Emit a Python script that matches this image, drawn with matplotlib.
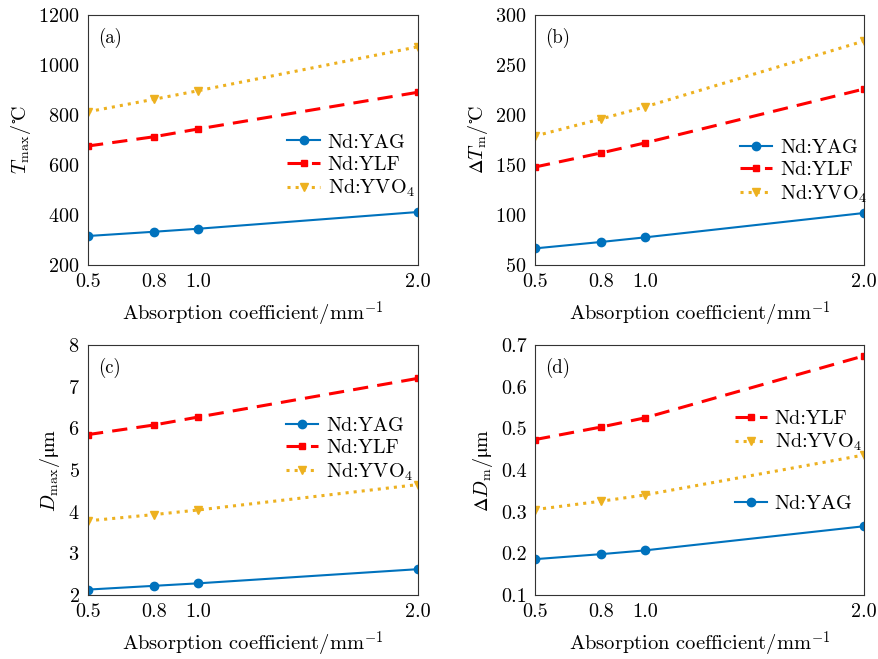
import numpy as np
import matplotlib
matplotlib.use('Agg')
import matplotlib.pyplot as plt

plt.rcParams['font.family'] = ['cmr10', 'DejaVu Serif']
plt.rcParams['mathtext.fontset'] = 'custom'
plt.rcParams['mathtext.rm'] = 'cmr10'
plt.rcParams['mathtext.it'] = 'cmmi10'
plt.rcParams['mathtext.bf'] = 'cmb10'
plt.rcParams['mathtext.fallback'] = 'stix'
plt.rcParams['axes.unicode_minus'] = False
plt.rcParams['axes.formatter.use_mathtext'] = True

# absorption coefficient / mm^-1
alpha = [0.5, 0.8, 1.0, 2.0]
names = ['Nd:YAG', 'Nd:YLF', r'Nd:YVO$_4$']

# (a) maximum temperature
tmax_yag = [316, 333, 345, 412]
tmax_ylf = [676, 713, 744, 891]
tmax_yvo = [813, 863, 897, 1073]

# (b) temperature difference
dtm_yag = [66.6, 73, 77.6, 102]
dtm_ylf = [148, 162, 172, 226]
dtm_yvo = [179, 196, 208, 274]

# (c) maximum deformation
dmax_yag = [2.13, 2.22, 2.28, 2.62]
dmax_ylf = [5.85, 6.08, 6.27, 7.20]
dmax_yvo = [3.78, 3.93, 4.04, 4.65]

# (d) deformation difference
ddm_yag = [0.186, 0.198, 0.207, 0.265]
ddm_ylf = [0.473, 0.503, 0.525, 0.674]
ddm_yvo = [0.305, 0.325, 0.340, 0.436]

col_yag = '#0072BD'
col_ylf = '#FF0000'
col_yvo = '#EDB120'

fig = plt.figure(figsize=(8.79, 6.59), dpi=100)
W, H = 879, 659
def box(l, t, r, b):
    return [l / W, 1 - b / H, (r - l) / W, (b - t) / H]

axs = [fig.add_axes(box(88, 15, 418, 265)),
       fig.add_axes(box(535, 15, 864, 265)),
       fig.add_axes(box(88, 345, 418, 595)),
       fig.add_axes(box(535, 345, 864, 595))]

data = [(tmax_yag, tmax_ylf, tmax_yvo),
        (dtm_yag, dtm_ylf, dtm_yvo),
        (dmax_yag, dmax_ylf, dmax_yvo),
        (ddm_yag, ddm_ylf, ddm_yvo)]
ylabels = [r'$T_{\mathrm{max}}/^{\circ}\!\mathrm{C}$', r'$\Delta T_{\mathrm{m}}/^{\circ}\!\mathrm{C}$',
           r'$D_{\mathrm{max}}/\mathrm{μm}$', r'$\Delta D_{\mathrm{m}}/\mathrm{μm}$']
ylims = [(200, 1200), (50, 300), (2, 8), (0.1, 0.7)]
yticks = [np.arange(200, 1201, 200), np.arange(50, 301, 50),
          np.arange(2, 9, 1), np.arange(0.1, 0.71, 0.1)]
ytlabels = [None, None, None, ['%.1f' % v for v in np.arange(0.1, 0.71, 0.1)]]
tags = ['(a)', '(b)', '(c)', '(d)']
# legend anchors (axes fraction), (d) has two groups
leg_pos = [(0.58, 0.395), (0.598, 0.372), (0.575, 0.58)]

fs = 14.5
for i, ax in enumerate(axs):
    yag, ylf, yvo = data[i]
    l1, = ax.plot(alpha, yag, '-', color=col_yag, lw=1.5, marker='o', ms=6, label=names[0])
    l2, = ax.plot(alpha, ylf, '--', color=col_ylf, lw=2.2, marker='s', ms=4.5,
                  dashes=(5, 3), label=names[1])
    l3, = ax.plot(alpha, yvo, ':', color=col_yvo, lw=2.2, marker='v', ms=6, label=names[2])
    ax.set_xlim(0.5, 2.0)
    ax.set_ylim(*ylims[i])
    ax.set_xticks(alpha)
    ax.set_xticklabels(['0.5', '0.8', '1.0', '2.0'])
    ax.set_yticks(yticks[i])
    if ytlabels[i] is not None:
        ax.set_yticklabels(ytlabels[i])
    ax.tick_params(length=0, labelsize=fs, pad=6)
    ax.set_xlabel(r'Absorption coefficient/mm$^{-1}$', fontsize=14.8, labelpad=6)
    ax.set_ylabel(ylabels[i], fontsize=fs, labelpad=4)
    for s in ax.spines.values():
        s.set_color('#333333')
        s.set_linewidth(0.8)
    ax.text(0.03, 0.95, tags[i], transform=ax.transAxes, fontsize=13.5, va='top')

    kw = dict(loc='center left', frameon=False, fontsize=fs, handlelength=1.6,
              labelspacing=0.2, borderaxespad=0, handletextpad=0.4)
    if i < 3:
        ax.legend(handles=[l1, l2, l3], bbox_to_anchor=leg_pos[i], **kw)
    else:
        lg = ax.legend(handles=[l2, l3], bbox_to_anchor=(0.582, 0.655), **kw)
        ax.add_artist(lg)
        ax.legend(handles=[l1], bbox_to_anchor=(0.582, 0.366), **kw)

fig.savefig('out.png', dpi=100)
